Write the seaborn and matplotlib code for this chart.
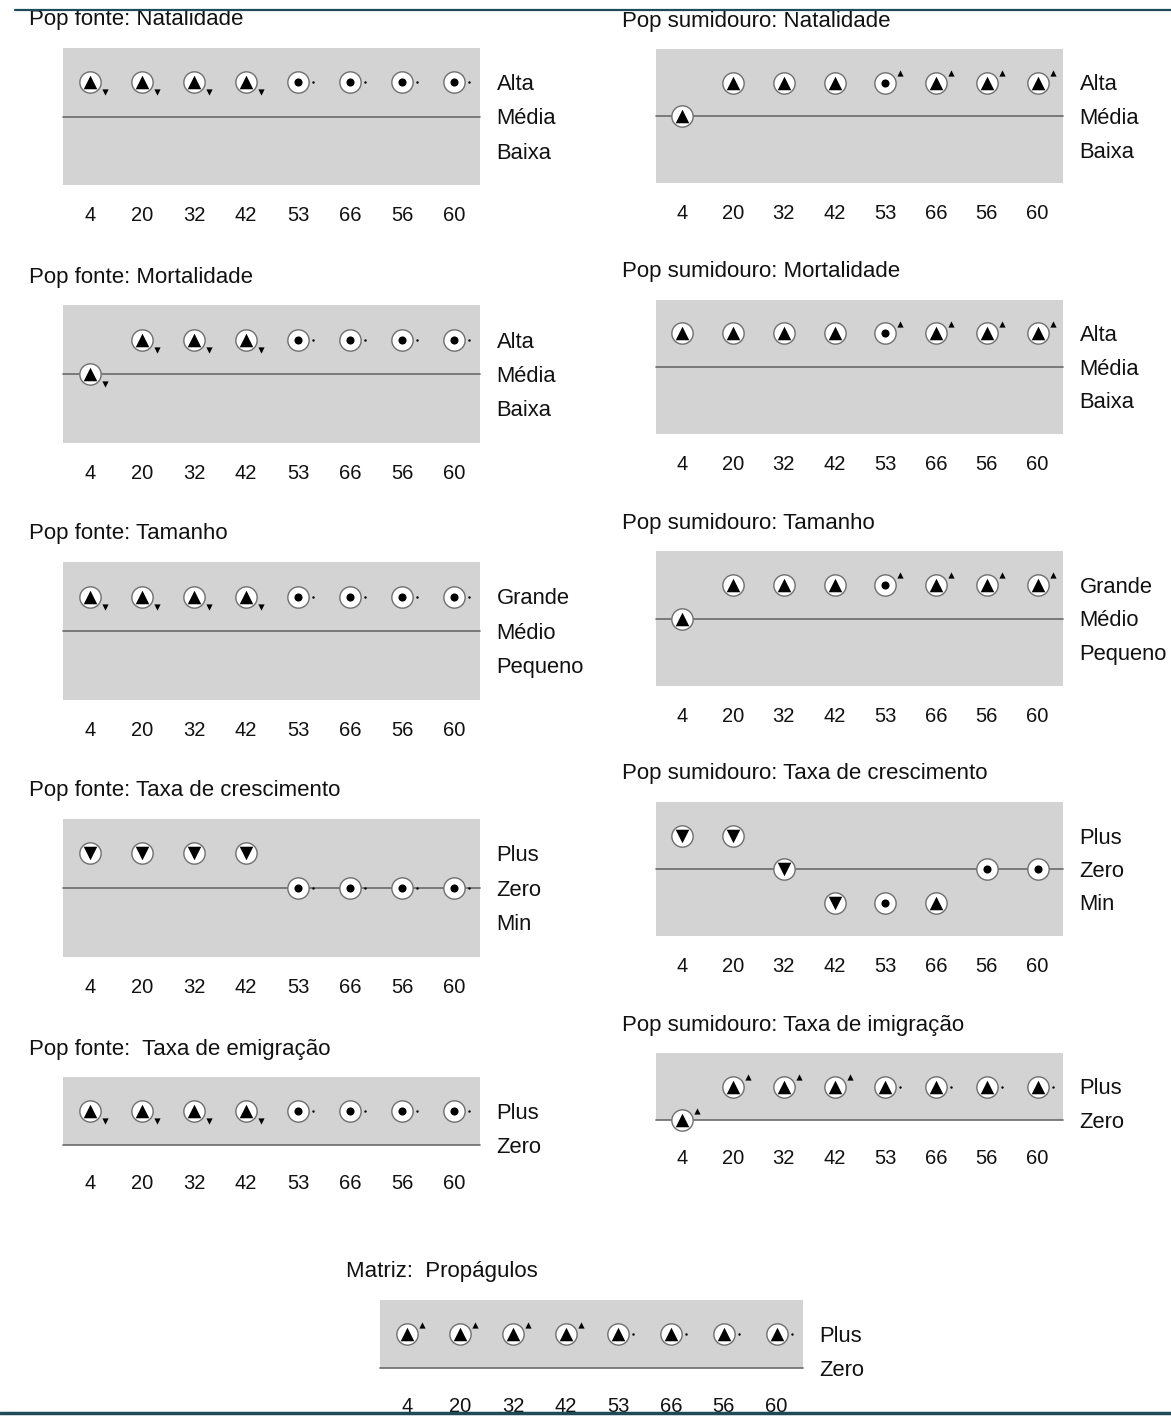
import pandas as pd
import matplotlib.pyplot as plt
import seaborn as sns
from matplotlib.lines import Line2D
from matplotlib.transforms import ScaledTranslation

# sites (x axis)
sites = ["4", "20", "32", "42", "53", "66", "56", "60"]

# right-hand level labels
lab_alta = ["Alta", "Média", "Baixa"]
lab_tam = ["Grande", "Médio", "Pequeno"]
lab_taxa = ["Plus", "Zero", "Min"]
lab_two = ["Plus", "Zero"]

# level: 1 = high, 0 = middle line, -1 = low
# center: symbol inside circle; side: small trend mark next to circle
fonte_nat_level = [1, 1, 1, 1, 1, 1, 1, 1]
fonte_nat_center = ["up", "up", "up", "up", "dot", "dot", "dot", "dot"]
fonte_nat_side = ["down", "down", "down", "down", "dot", "dot", "dot", "dot"]

fonte_mort_level = [0, 1, 1, 1, 1, 1, 1, 1]
fonte_mort_center = ["up", "up", "up", "up", "dot", "dot", "dot", "dot"]
fonte_mort_side = ["down", "down", "down", "down", "dot", "dot", "dot", "dot"]

fonte_tam_level = [1, 1, 1, 1, 1, 1, 1, 1]
fonte_tam_center = ["up", "up", "up", "up", "dot", "dot", "dot", "dot"]
fonte_tam_side = ["down", "down", "down", "down", "dot", "dot", "dot", "dot"]

fonte_cresc_level = [1, 1, 1, 1, 0, 0, 0, 0]
fonte_cresc_center = ["down", "down", "down", "down", "dot", "dot", "dot", "dot"]
fonte_cresc_side = ["none", "none", "none", "none", "dot", "dot", "dot", "dot"]

fonte_emig_level = [1, 1, 1, 1, 1, 1, 1, 1]
fonte_emig_center = ["up", "up", "up", "up", "dot", "dot", "dot", "dot"]
fonte_emig_side = ["down", "down", "down", "down", "dot", "dot", "dot", "dot"]

sumi_nat_level = [0, 1, 1, 1, 1, 1, 1, 1]
sumi_nat_center = ["up", "up", "up", "up", "dot", "up", "up", "up"]
sumi_nat_side = ["none", "none", "none", "none", "up", "up", "up", "up"]

sumi_mort_level = [1, 1, 1, 1, 1, 1, 1, 1]
sumi_mort_center = ["up", "up", "up", "up", "dot", "up", "up", "up"]
sumi_mort_side = ["none", "none", "none", "none", "up", "up", "up", "up"]

sumi_tam_level = [0, 1, 1, 1, 1, 1, 1, 1]
sumi_tam_center = ["up", "up", "up", "up", "dot", "up", "up", "up"]
sumi_tam_side = ["none", "none", "none", "none", "up", "up", "up", "up"]

sumi_cresc_level = [1, 1, 0, -1, -1, -1, 0, 0]
sumi_cresc_center = ["down", "down", "down", "down", "dot", "up", "dot", "dot"]
sumi_cresc_side = ["none", "none", "none", "none", "none", "none", "none", "none"]

sumi_imig_level = [0, 1, 1, 1, 1, 1, 1, 1]
sumi_imig_center = ["up", "up", "up", "up", "up", "up", "up", "up"]
sumi_imig_side = ["up", "up", "up", "up", "dot", "dot", "dot", "dot"]

matriz_prop_level = [1, 1, 1, 1, 1, 1, 1, 1]
matriz_prop_center = ["up", "up", "up", "up", "up", "up", "up", "up"]
matriz_prop_side = ["up", "up", "up", "up", "dot", "dot", "dot", "dot"]

W, H = 1171, 1416
sns.set_theme(style="white")
plt.rcParams["font.family"] = ["Liberation Sans", "DejaVu Sans"]
TXT = "#111111"
FS = 15.8
FS_TITLE = 16
FS_TICK = 14.5

fig = plt.figure(figsize=(W / 100, H / 100), dpi=100)

# marker, size for the symbol inside the circle
CENTER = {"up": ("^", 95), "down": ("v", 95), "dot": ("o", 34)}
# marker, size, vertical pixel offset for the small trend mark
SIDE = {"up": ("^", 20, 9.5), "down": ("v", 20, -10), "dot": ("o", 3, 0)}


def add_panel(left, top, width, height, title, levels, center, side, labels, tick_pad):
    ax = fig.add_axes([left / W, 1 - (top + height) / H, width / W, height / H])
    df = pd.DataFrame({"site": range(len(sites)), "level": levels,
                       "center": center, "side": side})
    ax.set_facecolor("#d3d3d3")
    ax.axhline(0, color="#6a6a6a", lw=1.2, zorder=1, clip_on=False)

    sns.scatterplot(data=df, x="site", y="level", marker="o", s=235, color="white",
                    edgecolor="#6f6f6f", linewidth=1.0, zorder=3, clip_on=False,
                    legend=False, ax=ax)
    for sym, (m, s) in CENTER.items():
        sub = df[df["center"] == sym]
        if len(sub):
            sns.scatterplot(data=sub, x="site", y="level", marker=m, s=s, color="black",
                            linewidth=0, zorder=4, clip_on=False, legend=False, ax=ax)
    for sym, (m, s, dy) in SIDE.items():
        sub = df[df["side"] == sym]
        if len(sub):
            sns.scatterplot(data=sub, x="site", y="level", marker=m, s=s, color="black",
                            linewidth=0, zorder=4, clip_on=False, legend=False, ax=ax)
            ax.collections[-1].set_offset_transform(
                ax.transData + ScaledTranslation(15 / 100, dy / 100, fig.dpi_scale_trans))

    ax.set_xlim(-0.52, 7.5)
    if len(labels) == 3:
        ax.set_ylim(-2, 2)
        ax.set_yticks([1, 0, -1])
    else:
        ax.set_ylim(0, 2)
        ax.set_yticks([1, 0])
    ax.yaxis.tick_right()
    ax.set_yticklabels(labels)
    ax.set_xticks(range(len(sites)))
    ax.set_xticklabels(sites)
    ax.tick_params(axis="y", length=0, pad=12, labelsize=FS, labelcolor=TXT)
    ax.tick_params(axis="x", length=0, pad=tick_pad, labelsize=FS_TICK, labelcolor=TXT)
    ax.set_xlabel("")
    ax.set_ylabel("")
    for sp in ax.spines.values():
        sp.set_visible(False)
    ax.annotate(title, xy=(0, 1), xycoords="axes fraction", xytext=(-34, 28),
                textcoords="offset pixels", ha="left", va="center",
                fontsize=FS_TITLE, color=TXT)
    return ax


# left column: Pop fonte
add_panel(63, 48, 417, 137, "Pop fonte: Natalidade",
          fonte_nat_level, fonte_nat_center, fonte_nat_side, lab_alta, 15)
add_panel(63, 305, 417, 138, "Pop fonte: Mortalidade",
          fonte_mort_level, fonte_mort_center, fonte_mort_side, lab_alta, 15)
add_panel(63, 562, 417, 138, "Pop fonte: Tamanho",
          fonte_tam_level, fonte_tam_center, fonte_tam_side, lab_tam, 15)
add_panel(63, 819, 417, 138, "Pop fonte: Taxa de crescimento",
          fonte_cresc_level, fonte_cresc_center, fonte_cresc_side, lab_taxa, 15)
add_panel(63, 1077, 417, 68, "Pop fonte:  Taxa de emigração",
          fonte_emig_level, fonte_emig_center, fonte_emig_side, lab_two, 21)

# right column: Pop sumidouro
add_panel(656, 49, 407, 134, "Pop sumidouro: Natalidade",
          sumi_nat_level, sumi_nat_center, sumi_nat_side, lab_alta, 15)
add_panel(656, 300, 407, 134, "Pop sumidouro: Mortalidade",
          sumi_mort_level, sumi_mort_center, sumi_mort_side, lab_alta, 15)
add_panel(656, 551, 407, 135, "Pop sumidouro: Tamanho",
          sumi_tam_level, sumi_tam_center, sumi_tam_side, lab_tam, 15)
add_panel(656, 802, 407, 134, "Pop sumidouro: Taxa de crescimento",
          sumi_cresc_level, sumi_cresc_center, sumi_cresc_side, lab_taxa, 15)
add_panel(656, 1053, 407, 67, "Pop sumidouro: Taxa de imigração",
          sumi_imig_level, sumi_imig_center, sumi_imig_side, lab_two, 21)

# bottom: Matriz
add_panel(380, 1300, 423, 68, "Matriz:  Propágulos",
          matriz_prop_level, matriz_prop_center, matriz_prop_side, lab_two, 21)

# frame lines at top and bottom
fig.add_artist(Line2D([15 / W, 1], [1 - 10 / H, 1 - 10 / H], color="#1f4a58", lw=1.6,
                      transform=fig.transFigure))
fig.add_artist(Line2D([0, 1], [1 - 1413 / H, 1 - 1413 / H], color="#1f4a58", lw=2.5,
                      transform=fig.transFigure))

fig.savefig("out.png", dpi=100)
